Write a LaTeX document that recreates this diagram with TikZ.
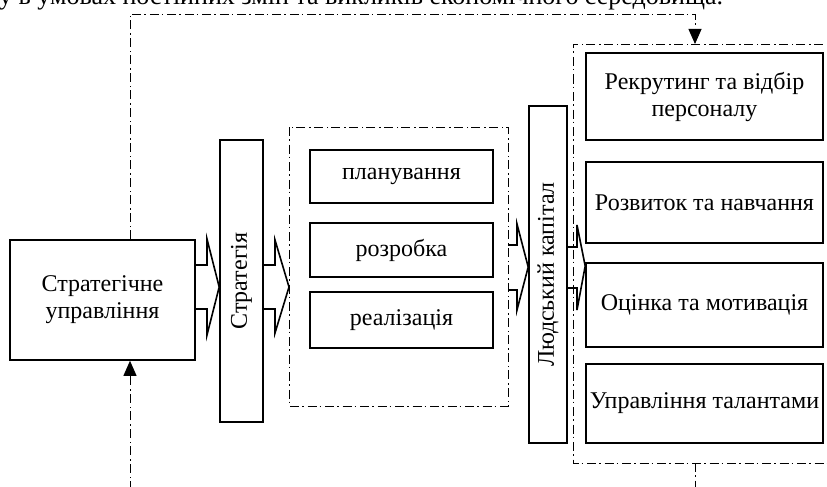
\documentclass[tikz,border=0pt]{standalone}
\usepackage{fontspec}
\setmainfont{Liberation Serif}
\usetikzlibrary{arrows.meta,calc}
\begin{document}
\begin{tikzpicture}[x=1pt,y=-1pt,
  txt/.style={font=\fontsize{24}{27}\selectfont},
  box/.style={draw,line width=1.6pt,inner sep=0pt,align=center,txt},
  grp/.style={line width=0.9pt,dash pattern=on 9pt off 3pt on 1.5pt off 4pt},
  fb/.style={grp,-{Triangle[length=15pt,width=13pt]}},
  blk/.style={line width=1.6pt,line join=miter}]
\useasboundingbox (0,0) rectangle (827,487);
% top cut text
\node[font=\fontsize{26}{28}\selectfont,anchor=base west,inner sep=0pt] (top) at (-1,5) {у в умовах постійних змін та викликів економічного середовища.};
% boxes
\node[box,minimum width=185,minimum height=120] (sm) at (102.5,300) {Стратегічне\\управління};
\node[box,minimum width=43,minimum height=282] (strat) at (241.5,281) {};
\node[txt,rotate=90] at (strat) {Стратегія};
\draw[grp] (289,127) rectangle (508,406);
\node[box,minimum width=183,minimum height=53] (plan) at (401.5,176.5) {планування};
\node[box,minimum width=183,minimum height=54] (rozr) at (401.5,250) {розробка};
\node[box,minimum width=183,minimum height=56] (real) at (401.5,320) {реалізація};
\node[box,minimum width=38,minimum height=337] (hc) at (548,274.5) {};
\node[txt,rotate=90] at (hc) {Людський капітал};
\draw[grp] (840,44) -- (573,44) -- (573,463) -- (840,463);
\node[box,minimum width=237,minimum height=87] (r1) at (704.5,96.5) {Рекрутинг та відбір\\персоналу};
\node[box,minimum width=237,minimum height=81] (r2) at (704.5,202.5) {Розвиток та навчання};
\node[box,minimum width=237,minimum height=84] (r3) at (704.5,305) {Оцінка та мотивація};
\node[box,minimum width=237,minimum height=79] (r4) at (704.5,403.5) {Управління талантами};
% block arrows
\draw[blk] (sm.east |- 0,265) -- (207,265) -- (207,239) -- (strat.west |- 0,287) -- (207,335) -- (207,309) -- (sm.east |- 0,309);
\draw[blk] (strat.east |- 0,265) -- (275,265) -- (275,240) -- (289,287) -- (275,333) -- (275,309) -- (strat.east |- 0,309);
\draw[blk] (508,245) -- (517,245) -- (517,224) -- (hc.west |- 0,267) -- (517,310) -- (517,290) -- (508,290);
\draw[blk] (hc.east |- 0,247) -- (577,247) -- (577,225) -- (r3.west |- 0,266) -- (577,310) -- (577,288) -- (hc.east |- 0,288);
% feedback lines
\coordinate (tl) at (130,14);
\coordinate (tr) at (695,14);
\coordinate (g2t) at (695,44);
\coordinate (g2b) at (695,463);
\coordinate (bl) at (130,490);
\coordinate (br) at (695,490);
\draw[fb] (sm.north -| tl) -- (tl) -- (tr) -- (g2t);
\draw[fb] (bl) -- (sm.south -| bl);
\draw[grp] (g2b) -- (br);
\end{tikzpicture}
\end{document}
